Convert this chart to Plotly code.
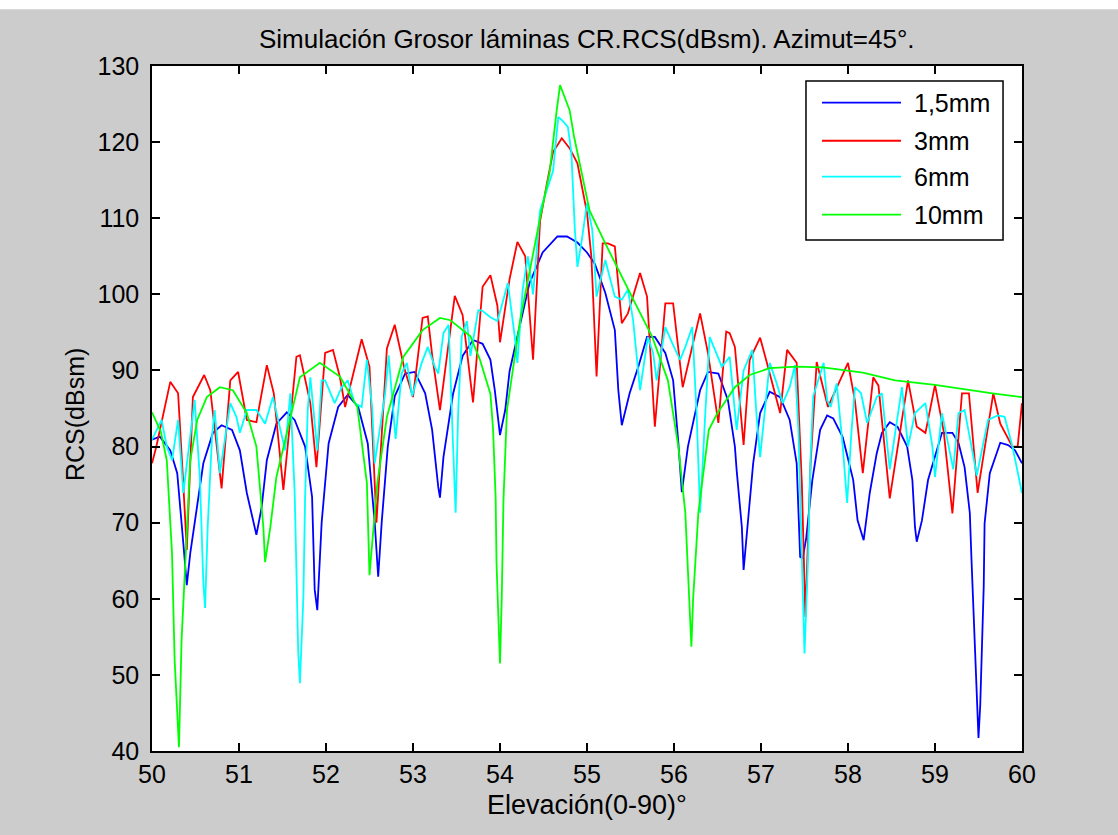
import plotly.graph_objects as go

# RCS vs elevation for four plate thicknesses (azimuth 45 deg)
x_15mm = [50.00, 50.09, 50.21, 50.29, 50.36, 50.40, 50.44, 50.52, 50.59, 50.70, 50.80, 50.92, 51.01, 51.09,
          51.20, 51.26, 51.32, 51.43, 51.55, 51.64, 51.70, 51.76, 51.84, 51.87, 51.90, 51.95, 52.03, 52.14,
          52.25, 52.37, 52.48, 52.56, 52.60, 52.64, 52.71, 52.79, 52.91, 53.02, 53.14, 53.22, 53.29, 53.31,
          53.35, 53.46, 53.57, 53.69, 53.80, 53.89, 53.94, 54.00, 54.06, 54.11, 54.23, 54.34, 54.49, 54.66,
          54.77, 54.89, 55.00, 55.09, 55.21, 55.32, 55.36, 55.40, 55.49, 55.59, 55.69, 55.78, 55.90, 55.99,
          56.05, 56.09, 56.16, 56.24, 56.30, 56.39, 56.51, 56.62, 56.70, 56.72, 56.78, 56.80, 56.85, 56.91,
          56.99, 57.10, 57.22, 57.33, 57.41, 57.45, 57.48, 57.52, 57.59, 57.68, 57.76, 57.83, 57.94, 58.06,
          58.11, 58.18, 58.25, 58.33, 58.39, 58.48, 58.57, 58.68, 58.74, 58.77, 58.79, 58.85, 58.92, 59.00,
          59.08, 59.20, 59.27, 59.34, 59.40, 59.42, 59.46, 59.48, 59.50, 59.52, 59.54, 59.56, 59.57, 59.63,
          59.75, 59.84, 59.92, 60.00]
rcs_15mm = [80.9, 81.3, 79.5, 76.5, 67.3, 61.8, 66.0, 72.6, 77.8, 81.8, 82.8, 82.2, 79.5, 73.9,
            68.4, 72.0, 78.2, 83.0, 84.5, 83.5, 81.8, 80.0, 73.4, 61.2, 58.5, 70.0, 80.4, 85.2,
            86.8, 85.2, 80.4, 70.0, 62.9, 70.0, 80.0, 86.6, 89.6, 89.8, 87.0, 82.2, 74.7, 73.3,
            78.6, 86.9, 91.9, 94.0, 93.5, 91.4, 87.4, 81.5, 84.8, 89.9, 96.0, 101.5, 105.5, 107.6,
            107.6, 106.8, 105.5, 104.0, 100.2, 95.3, 87.4, 82.8, 87.0, 90.5, 94.4, 94.4, 92.3, 88.7,
            80.5, 74.0, 80.0, 84.4, 87.4, 89.8, 89.6, 86.1, 80.0, 76.9, 69.4, 63.8, 69.9, 77.8,
            84.4, 87.2, 86.5, 83.5, 77.8, 65.5, 65.3, 68.0, 75.6, 82.2, 84.1, 83.7, 81.2, 75.6,
            70.3, 67.7, 73.9, 79.1, 81.8, 83.2, 82.6, 80.0, 75.6, 69.4, 67.5, 70.3, 75.6, 78.6,
            81.8, 81.8, 80.5, 77.3, 71.3, 65.0, 53.7, 45.8, 41.7, 46.0, 53.7, 61.6, 69.9, 76.5,
            80.5, 80.2, 79.5, 77.8]

x_3mm = [50.00, 50.05, 50.21, 50.30, 50.36, 50.40, 50.47, 50.60, 50.67, 50.80, 50.90, 50.99, 51.09, 51.20,
         51.32, 51.40, 51.51, 51.66, 51.70, 51.82, 51.89, 51.99, 52.08, 52.16, 52.22, 52.41, 52.50, 52.58,
         52.70, 52.79, 52.90, 53.00, 53.11, 53.17, 53.22, 53.31, 53.48, 53.57, 53.69, 53.80, 53.89, 53.97,
         54.00, 54.11, 54.20, 54.29, 54.38, 54.46, 54.54, 54.61, 54.71, 54.80, 54.89, 55.00, 55.05, 55.09,
         55.11, 55.18, 55.24, 55.32, 55.40, 55.47, 55.61, 55.69, 55.78, 55.90, 55.99, 56.10, 56.30, 56.39,
         56.51, 56.60, 56.64, 56.70, 56.80, 56.87, 56.99, 57.08, 57.22, 57.30, 57.41, 57.47, 57.51, 57.57,
         57.64, 57.77, 58.00, 58.08, 58.17, 58.29, 58.35, 58.48, 58.69, 58.79, 58.89, 59.00, 59.10, 59.20,
         59.31, 59.39, 59.49, 59.67, 59.75, 59.89, 59.95, 60.00]
rcs_3mm = [77.8, 80.0, 88.5, 87.0, 75.0, 66.4, 86.5, 89.4, 87.4, 74.5, 88.7, 89.8, 83.5, 83.2,
           90.7, 87.0, 74.3, 91.8, 92.0, 85.7, 77.3, 92.3, 92.7, 89.1, 85.2, 94.1, 90.5, 70.0,
           92.9, 96.0, 90.3, 86.5, 96.9, 97.1, 92.0, 84.8, 99.8, 97.3, 85.8, 101.0, 102.5, 98.5,
           93.7, 102.0, 106.9, 105.0, 91.4, 109.6, 114.6, 118.7, 120.5, 119.2, 117.2, 110.7, 105.0, 93.0,
           89.2, 106.7, 106.7, 106.3, 96.2, 97.5, 102.8, 99.7, 82.6, 98.8, 98.8, 87.8, 97.5, 92.3,
           83.1, 95.1, 94.9, 93.1, 80.2, 91.4, 94.3, 90.5, 84.4, 92.7, 91.0, 75.0, 57.6, 77.8,
           91.1, 85.2, 91.0, 86.0, 76.5, 89.1, 88.0, 73.2, 88.7, 82.6, 81.8, 88.1, 82.0, 71.2,
           87.0, 87.0, 73.9, 87.0, 83.0, 80.0, 80.0, 85.7]

x_6mm = [50.00, 50.11, 50.17, 50.23, 50.30, 50.36, 50.49, 50.55, 50.59, 50.61, 50.64, 50.69, 50.72, 50.78,
         50.90, 50.97, 51.01, 51.09, 51.20, 51.30, 51.39, 51.53, 51.59, 51.64, 51.66, 51.68, 51.70, 51.74,
         51.76, 51.79, 51.82, 51.85, 51.90, 51.95, 51.99, 52.10, 52.18, 52.25, 52.33, 52.41, 52.47, 52.53,
         52.56, 52.68, 52.72, 52.80, 52.87, 52.93, 52.99, 53.10, 53.17, 53.25, 53.29, 53.35, 53.41, 53.46,
         53.49, 53.52, 53.56, 53.62, 53.66, 53.75, 53.79, 53.89, 53.97, 54.02, 54.09, 54.17, 54.20, 54.26,
         54.32, 54.38, 54.46, 54.61, 54.67, 54.72, 54.78, 54.82, 54.86, 54.89, 54.94, 55.00, 55.06, 55.11,
         55.21, 55.26, 55.32, 55.40, 55.47, 55.53, 55.61, 55.70, 55.76, 55.80, 55.90, 55.98, 56.07, 56.13,
         56.21, 56.26, 56.30, 56.36, 56.41, 56.55, 56.62, 56.64, 56.72, 56.80, 56.90, 56.95, 56.99, 57.10,
         57.18, 57.25, 57.33, 57.39, 57.43, 57.47, 57.50, 57.54, 57.57, 57.60, 57.68, 57.72, 57.76, 57.80,
         57.87, 57.94, 57.99, 58.04, 58.08, 58.15, 58.22, 58.33, 58.39, 58.48, 58.62, 58.69, 58.77, 58.89,
         58.97, 59.00, 59.08, 59.21, 59.27, 59.34, 59.42, 59.48, 59.61, 59.72, 59.80, 59.89, 60.00]
rcs_6mm = [80.9, 83.5, 80.0, 78.2, 83.5, 73.9, 86.1, 76.0, 62.1, 58.8, 69.4, 81.3, 84.8, 76.5,
           85.7, 83.9, 81.8, 84.8, 84.8, 83.0, 86.5, 79.5, 87.0, 73.9, 63.8, 53.3, 48.9, 60.2,
           73.4, 84.8, 89.1, 85.2, 79.5, 88.7, 88.7, 85.7, 87.8, 88.7, 85.7, 85.2, 91.4, 85.2,
           77.8, 87.0, 92.0, 81.0, 89.6, 91.0, 86.6, 91.0, 93.1, 90.5, 89.6, 94.9, 96.0, 80.3,
           71.3, 84.8, 94.4, 96.5, 91.9, 97.9, 97.9, 97.0, 96.5, 98.5, 101.5, 94.4, 91.0, 100.6,
           105.0, 100.0, 111.0, 116.2, 123.3, 122.8, 122.0, 118.7, 108.6, 103.6, 107.1, 112.0, 108.5, 99.7,
           104.5, 102.3, 99.7, 99.3, 100.6, 96.6, 87.4, 94.4, 92.3, 88.7, 95.7, 93.6, 91.4, 93.1,
           95.7, 84.4, 71.3, 84.4, 94.4, 90.5, 91.4, 91.8, 82.2, 90.0, 92.7, 83.9, 78.6, 91.0,
           88.3, 85.7, 87.8, 90.7, 82.2, 64.7, 52.8, 65.0, 78.6, 86.6, 89.6, 91.0, 86.1, 85.2,
           88.3, 80.0, 72.6, 82.0, 87.8, 87.0, 83.1, 86.5, 87.0, 77.0, 87.8, 80.0, 84.4, 85.7,
           80.0, 76.0, 84.4, 77.0, 84.4, 84.8, 80.0, 76.2, 83.5, 84.1, 83.9, 80.0, 73.9]

x_10mm = [50.00, 50.10, 50.17, 50.23, 50.26, 50.30, 50.31, 50.34, 50.38, 50.44, 50.52, 50.63, 50.78, 50.93,
          51.09, 51.20, 51.28, 51.30, 51.36, 51.43, 51.55, 51.70, 51.93, 52.16, 52.36, 52.47, 52.50, 52.59,
          52.70, 52.89, 53.11, 53.31, 53.43, 53.66, 53.77, 53.89, 53.92, 53.95, 53.96, 53.99, 54.00, 54.02,
          54.04, 54.08, 54.23, 54.46, 54.57, 54.65, 54.69, 54.80, 54.85, 55.03, 55.21, 55.55, 55.75, 55.93,
          56.05, 56.13, 56.19, 56.20, 56.22, 56.28, 56.40, 56.50, 56.70, 56.87, 57.10, 57.41, 57.71, 58.17,
          58.54, 59.00, 59.66, 60.00]
rcs_10mm = [84.5, 82.0, 78.2, 66.0, 52.0, 44.0, 40.5, 54.6, 63.8, 78.2, 83.5, 86.5, 87.8, 87.4,
            84.4, 80.0, 69.4, 64.8, 69.4, 76.0, 81.8, 89.1, 91.0, 89.2, 85.2, 75.2, 63.1, 75.2,
            83.9, 91.8, 95.3, 96.9, 96.6, 94.5, 91.4, 86.9, 82.3, 73.2, 64.7, 55.5, 51.5, 60.0,
            73.0, 84.8, 96.5, 110.0, 116.0, 124.0, 127.5, 124.2, 120.8, 111.0, 106.7, 98.9, 94.4, 88.7,
            80.0, 71.3, 56.8, 53.7, 60.0, 71.3, 82.2, 84.4, 87.8, 89.4, 90.3, 90.5, 90.4, 89.7,
            88.7, 88.1, 87.0, 86.5]

series = [
    ("1,5mm", x_15mm, rcs_15mm, "#0000ff"),
    ("3mm", x_3mm, rcs_3mm, "#ff0000"),
    ("6mm", x_6mm, rcs_6mm, "#00ffff"),
    ("10mm", x_10mm, rcs_10mm, "#00ff00"),
]

title_text = "Simulación Grosor láminas CR.RCS(dBsm). Azimut=45°."
x_label = "Elevación(0-90)°"
y_label = "RCS(dBsm)"
x_ticks = list(range(50, 61))
y_ticks = list(range(40, 131, 10))

FONT = "Liberation Sans, Arial, Helvetica, sans-serif"
FS = 25

fig = go.Figure()
for name, xs, ys, color in series:
    fig.add_trace(go.Scatter(x=xs, y=ys, mode="lines", name=name,
                             line=dict(color=color, width=1.8), showlegend=False))

axis_common = dict(showgrid=False, zeroline=False, showline=True, linecolor="black", linewidth=1.5,
                   mirror="ticks", ticks="inside", ticklen=8, tickwidth=1.5, tickcolor="black",
                   tickfont=dict(family=FONT, size=FS, color="black"))
fig.update_xaxes(range=[50, 60], tickvals=x_ticks, ticktext=[str(v) for v in x_ticks], **axis_common)
fig.update_yaxes(range=[40, 130], tickvals=y_ticks, ticktext=[str(v) for v in y_ticks],
                 ticklabelstandoff=6, **axis_common)

annotations = [
    dict(text=title_text, x=0.5, y=1, xref="paper", yref="paper", xanchor="center", yanchor="bottom",
         yshift=10, showarrow=False, font=dict(family=FONT, size=26, color="black")),
    dict(text=x_label, x=0.5, y=0, xref="paper", yref="paper", xanchor="center", yanchor="middle",
         yshift=-54, showarrow=False, font=dict(family=FONT, size=27, color="black")),
    dict(text=y_label, x=0, y=0.4905, xref="paper", yref="paper", xanchor="center", yanchor="middle",
         xshift=-77, textangle=-90, showarrow=False, font=dict(family=FONT, size=FS, color="black")),
]

# White band along the top edge of the figure, and the legend box (paper coordinates)
shapes = [
    dict(type="rect", xref="paper", yref="paper", x0=-0.1747, x1=1.1103, y0=1.083, y1=1.0964,
         fillcolor="white", line=dict(width=0), layer="above"),
    dict(type="rect", xref="paper", yref="paper", x0=0.7517, x1=0.9782, y0=0.7460, y1=0.9781,
         fillcolor="white", line=dict(color="black", width=1.5)),
]
legend_rows = [0.9464, 0.8909, 0.8384, 0.7829]
for (name, _, _, color), ly in zip(series, legend_rows):
    shapes.append(dict(type="line", xref="paper", yref="paper", x0=0.7701, x1=0.8609, y0=ly, y1=ly,
                       line=dict(color=color, width=1.8)))
    annotations.append(dict(text=name, x=0.8736, y=ly, xref="paper", yref="paper", xanchor="left",
                            yanchor="middle", showarrow=False,
                            font=dict(family=FONT, size=FS, color="black")))

fig.update_layout(
    width=1118, height=835, autosize=False,
    margin=dict(l=152, r=96, t=66, b=84),
    paper_bgcolor="#cccccc", plot_bgcolor="white",
    annotations=annotations, shapes=shapes,
    font=dict(family=FONT, size=FS, color="black"),
)

fig.write_html("out.html", config={"displayModeBar": False})
